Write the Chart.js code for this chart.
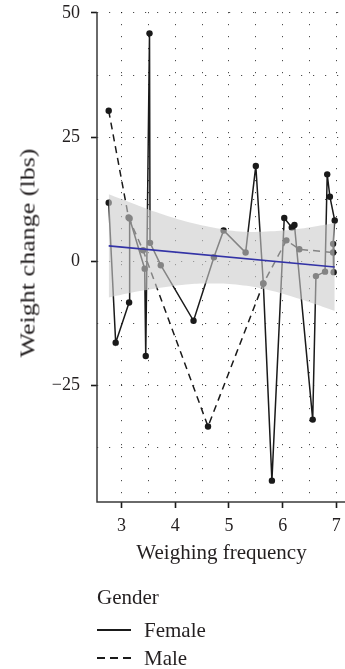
<!DOCTYPE html>
<html><head><meta charset="utf-8">
<script src="https://cdn.jsdelivr.net/npm/chart.js@4"></script>
<style>
html,body{margin:0;padding:0;background:#fff;overflow:hidden;width:345px;height:669px;}
#wrap{position:relative;width:350px;height:669px;}
canvas{position:absolute;left:0;top:0;}
.leg{position:absolute;font-family:"Liberation Serif","DejaVu Serif",serif;font-size:21px;color:#231f20;line-height:24px;white-space:nowrap;}
.leg svg{position:absolute;left:0;top:0;}
#ytitle{position:absolute;left:28px;top:253px;font-family:"Liberation Serif","DejaVu Serif",serif;font-size:21px;line-height:21px;color:#231f20;white-space:nowrap;transform:translate(-50%,-50%) rotate(-90deg) scaleX(1.24);}
</style></head><body>
<div id="wrap">
<canvas id="c" width="350" height="669"></canvas>
<div id="ytitle">Weight change (lbs)</div>
<div class="leg" style="left:97px;top:585px">Gender</div>
<div class="leg" style="left:97px;top:618px;width:120px;height:24px">
  <svg width="36" height="24"><line x1="0" y1="12" x2="34" y2="12" stroke="#1a1a1a" stroke-width="1.8"/></svg>
  <span style="position:absolute;left:47px;top:0">Female</span>
</div>
<div class="leg" style="left:97px;top:646px;width:120px;height:24px">
  <svg width="36" height="24"><line x1="0" y1="12" x2="34" y2="12" stroke="#1a1a1a" stroke-width="1.8" stroke-dasharray="8,5"/></svg>
  <span style="position:absolute;left:47px;top:0">Male</span>
</div>
</div>
<script>
// ---- data ----
const femaleX = [2.76, 2.89, 3.14, 3.15, 3.43, 3.45, 3.52, 3.53, 3.73, 4.34, 4.72, 4.90, 5.31, 5.50, 5.64, 5.80, 6.03, 6.17, 6.22, 6.56, 6.62, 6.79, 6.83, 6.88, 6.97, 6.94, 6.95];
const femaleY = [11.8, -16.4, -8.3, 8.6, -1.5, -19.1, 45.9, 3.7, -0.8, -12.0, 0.8, 6.2, 1.75, 19.2, -4.5, -44.2, 8.7, 6.8, 7.3, -31.9, -3.0, -2.1, 17.5, 13.0, 8.2, 3.5, -2.2];
const maleX = [2.76, 3.13, 3.40, 4.61, 5.64, 6.07, 6.31, 6.94];
const maleY = [30.3, 8.8, 2.2, -33.3, -4.5, 4.2, 2.4, 1.75];
const fitX = [2.76, 6.97];
const fitY = [3.1, -1.15];
const bandX = [2.76, 3.2, 3.64, 4.2, 4.7, 5.2, 5.7, 6.2, 6.6, 6.97];
const bandUpper = [13.5, 11.7, 9.9, 8.0, 6.8, 6.0, 6.0, 6.4, 7.0, 7.7];
const bandLower = [-7.3, -6.3, -5.5, -4.7, -4.5, -4.8, -5.7, -7.2, -8.6, -10.0];
const xTickValues = [3, 3.5, 4, 4.5, 5, 5.5, 6, 6.5, 7];
const yTickValues = [-37.5, -25, -12.5, 0, 12.5, 25, 37.5, 50];
const xLabelTicks = [3, 4, 5, 6, 7];
const yLabelTicks = [-25, 0, 25, 50];

const pts = (xs, ys) => xs.map((x, i) => ({x: x, y: ys[i]}));
const FONT = '"Liberation Serif","DejaVu Serif",serif';
const TXT = '#231f20';

const axisLines = {
  id: 'axisLines',
  afterDraw(chart) {
    const {ctx, chartArea: a} = chart;
    ctx.save();
    ctx.strokeStyle = '#3a3a3a';
    ctx.lineWidth = 1.5;
    ctx.beginPath();
    ctx.moveTo(a.left, a.top);
    ctx.lineTo(a.left, a.bottom);
    ctx.lineTo(a.right, a.bottom);
    ctx.stroke();
    ctx.restore();
  }
};

new Chart(document.getElementById('c'), {
  type: 'line',
  data: {
    datasets: [
      {label: 'fit', data: pts(fitX, fitY), borderColor: '#3333a6', borderWidth: 1.6, pointRadius: 0, fill: false, order: 0},
      {label: 'upper', data: pts(bandX, bandUpper), borderWidth: 0, borderColor: 'rgba(0,0,0,0)', pointRadius: 0, tension: 0.4,
       fill: '+1', backgroundColor: 'rgba(204,204,204,0.6)', order: 1},
      {label: 'lower', data: pts(bandX, bandLower), borderWidth: 0, borderColor: 'rgba(0,0,0,0)', pointRadius: 0, tension: 0.4, fill: false, order: 1},
      {label: 'Male', data: pts(maleX, maleY), borderColor: '#1a1a1a', borderWidth: 1.5, borderDash: [7, 5],
       pointRadius: 3.2, pointBackgroundColor: '#1a1a1a', pointBorderWidth: 0, fill: false, order: 2},
      {label: 'Female', data: pts(femaleX, femaleY), borderColor: '#1a1a1a', borderWidth: 1.5,
       pointRadius: 3.2, pointBackgroundColor: '#1a1a1a', pointBorderWidth: 0, fill: false, order: 3}
    ]
  },
  options: {
    responsive: false,
    animation: false,
    events: [],
    layout: {padding: {top: 12, bottom: 102, left: 0, right: 0}},
    plugins: {legend: {display: false}, tooltip: {enabled: false}},
    scales: {
      x: {
        type: 'linear', min: 2.542, max: 7.18,
        afterBuildTicks: s => { s.ticks = xTickValues.map(v => ({value: v})); },
        afterFit: s => { s.height = 65; s.paddingLeft = 0; s.paddingRight = 0; },
        ticks: {
          autoSkip: false, maxRotation: 0, padding: 7,
          color: TXT, font: {family: FONT, size: 18},
          callback: v => xLabelTicks.includes(v) ? String(v) : ''
        },
        grid: {
          color: 'rgba(0,0,0,0.7)', lineWidth: 1, drawTicks: true, tickLength: 6, tickWidth: 1.6,
          tickColor: c => (c.tick && xLabelTicks.includes(c.tick.value)) ? '#1a1a1a' : 'rgba(0,0,0,0)'
        },
        border: {display: false, dash: [1.2, 10.8]},
        title: {display: true, text: 'Weighing frequency', color: TXT, font: {family: FONT, size: 21}, padding: {top: 0, bottom: 1}}
      },
      y: {
        type: 'linear', min: -48.5, max: 50.2,
        afterBuildTicks: s => { s.ticks = yTickValues.map(v => ({value: v})); },
        afterFit: s => { s.width = 97; s.paddingTop = 0; s.paddingBottom = 0; },
        ticks: {
          autoSkip: false, padding: 11,
          color: TXT, font: {family: FONT, size: 18},
          callback: v => yLabelTicks.includes(v) ? (v < 0 ? '\u2212' + Math.abs(v) : String(v)) : ''
        },
        grid: {
          color: 'rgba(0,0,0,0.7)', lineWidth: 1, drawTicks: true, tickLength: 6, tickWidth: 1.6,
          tickColor: c => (c.tick && yLabelTicks.includes(c.tick.value)) ? '#1a1a1a' : 'rgba(0,0,0,0)'
        },
        border: {display: false, dash: [1.2, 10.8]},
        title: {display: false}
      }
    }
  },
  plugins: [axisLines]
});
</script>
</body></html>
